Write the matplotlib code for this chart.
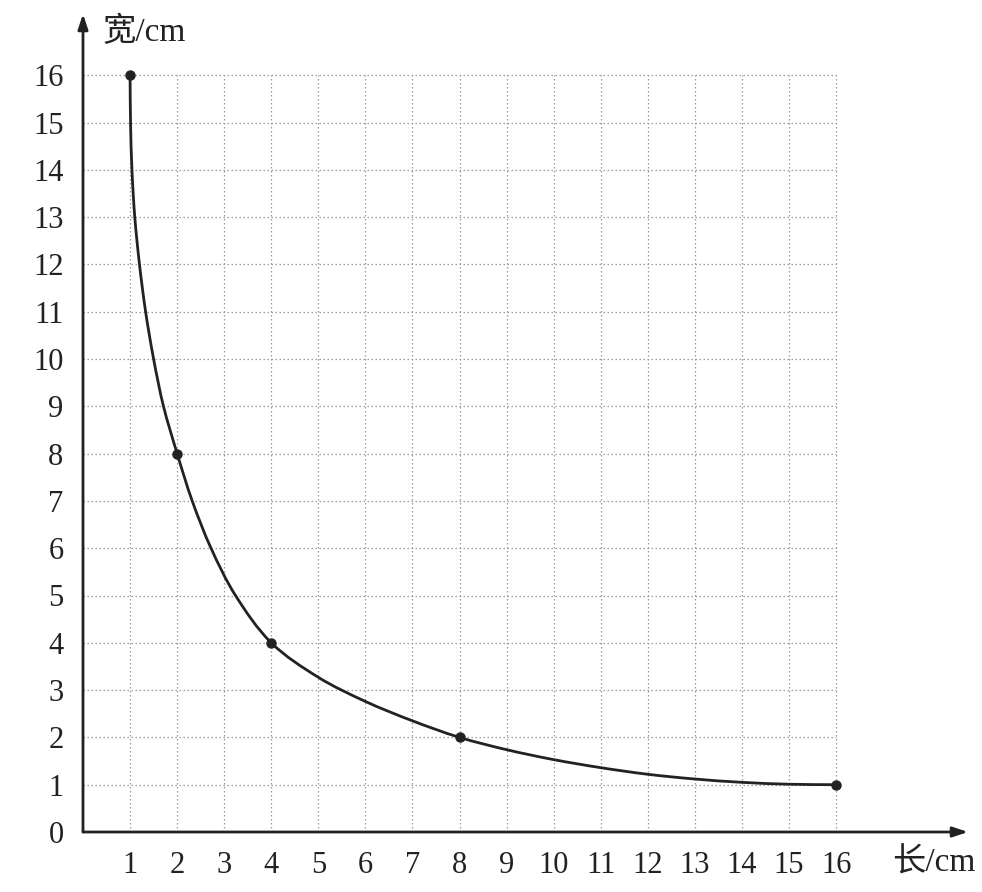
import matplotlib
matplotlib.use("Agg")
import matplotlib.pyplot as plt
import numpy as np
from matplotlib.path import Path
from matplotlib.patches import PathPatch

plt.rcParams['font.family'] = ['Liberation Serif', 'Noto Sans CJK SC']

# points marked on the graph
mark_x = [1, 2, 4, 8, 16]
mark_y = [16, 8, 4, 2, 1]

# curve
curve_x = [1, 1.01, 1.04, 1.10, 1.20, 1.33, 1.50, 1.71, 2, 2.32, 2.72, 3.24, 4,
           5, 6, 7, 8, 9, 10, 11, 12, 13, 14, 15, 16]
curve_y = [16, 15, 14, 13, 12, 11, 10, 9, 8, 7, 6, 5, 4,
           3.27, 2.76, 2.35, 2, 1.74, 1.53, 1.36, 1.22, 1.12, 1.05, 1.01, 1.0]

x_ticks = list(range(1, 17))
y_ticks = list(range(0, 17))


def smooth_path(xs, ys):
    # cubic Bezier through the read points, tangents from the neighbours
    p = np.column_stack([xs, ys]).astype(float)
    n = len(p)
    tan = np.zeros_like(p)
    for i in range(n):
        a = p[max(i - 1, 0)]
        b = p[min(i + 1, n - 1)]
        d = b - a
        tan[i] = d / np.hypot(*d)
    verts = [tuple(p[0])]
    codes = [Path.MOVETO]
    for i in range(n - 1):
        seg = np.hypot(*(p[i + 1] - p[i])) / 3
        verts += [tuple(p[i] + tan[i] * seg), tuple(p[i + 1] - tan[i + 1] * seg),
                  tuple(p[i + 1])]
        codes += [Path.CURVE4] * 3
    return Path(verts, codes)


W, H = 982, 892
fig = plt.figure(figsize=(W / 100, H / 100), dpi=100)
x0, y0 = 83, 832
unit_x, unit_y = 47.07, 47.3
xmax = (968 - x0) / unit_x
ymax = (y0 - 14) / unit_y
ax = fig.add_axes([x0 / W, (H - y0) / H, (xmax * unit_x) / W, (ymax * unit_y) / H])
ax.set_xlim(0, xmax)
ax.set_ylim(0, ymax)
for s in ax.spines.values():
    s.set_visible(False)

grid_kw = dict(color="#9a9a9a", lw=0.9, ls=(0, (1.2, 2.0)), zorder=1)
for v in range(1, 17):
    ax.plot([v, v], [0, 16], **grid_kw)
    ax.plot([0, 16], [v, v], **grid_kw)

# axes with arrow heads
arrow = dict(arrowstyle="-|>,head_length=0.9,head_width=0.3", color="#222222", lw=2,
             shrinkA=0, shrinkB=0)
ax.annotate("", xy=(xmax, 0), xytext=(0, 0), arrowprops=arrow, annotation_clip=False)
ax.annotate("", xy=(0, ymax), xytext=(0, 0), arrowprops=arrow, annotation_clip=False)

ax.add_patch(PathPatch(smooth_path(curve_x, curve_y), fill=False, edgecolor="#222222",
                       lw=2, zorder=3, capstyle="round"))
ax.plot(mark_x, mark_y, "o", color="#222222", ms=6.5, zorder=4)

ax.set_xticks(x_ticks)
ax.set_yticks(y_ticks)
ax.set_xticklabels([str(t) for t in x_ticks])
ax.set_yticklabels([str(t) for t in y_ticks])
ax.tick_params(length=0, labelsize=22, colors="#222222")
ax.tick_params(axis="x", pad=14)
ax.tick_params(axis="y", pad=14)

ax.text(0.42, 16.9, "宽/cm", fontsize=24, color="#222222",
        ha="left", va="center")
ax.text(17.2, -0.66, "长/cm", fontsize=24, color="#222222",
        ha="left", va="center", clip_on=False)

fig.savefig("out.png", dpi=100, facecolor="white")
